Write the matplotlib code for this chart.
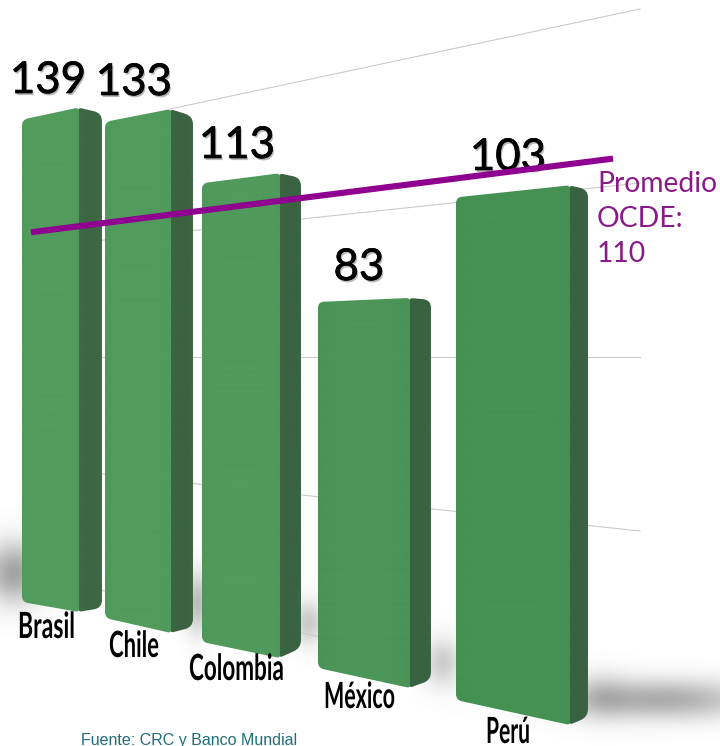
import matplotlib
matplotlib.use("Agg")
import matplotlib.pyplot as plt
import matplotlib.patheffects as pe
from matplotlib.patches import PathPatch
from matplotlib.path import Path
from matplotlib.transforms import Affine2D
import numpy as np

W, H = 720, 746

countries = ["Brasil", "Chile", "Colombia", "México", "Perú"]
values = [139, 133, 113, 83, 103]
ocde_value = 110
ocde_label = "Promedio\nOCDE:\n110"
source = "Fuente: CRC y Banco Mundial"
grid_steps = [-2, -1, 0, 1, 2]

# perspective layout, pixels: three vertical edges of each bar (left, front, right)
edge_x = [(22, 78, 102), (105, 170, 193), (202, 279, 301), (318, 409, 431), (456, 569, 588)]
edge_base = [(602, 612, 608), (618, 633, 627), (642, 658, 648), (668, 688, 680), (700, 725, 717)]
# pixels per unit along each edge, grows toward the viewer
edge_scale = [(3.47, 3.63, 3.56), (3.73, 3.94, 3.84), (4.06, 4.29, 4.16), (4.41, 4.70, 4.58), (4.88, 5.24, 5.12)]
# same idea for the OCDE line, its two ends
ocde_x = np.array([31, 613])
ocde_base = np.array([614, 735])
ocde_scale = np.array([3.47, 5.24])

value_pos = [(48, 93), (134, 95), (237, 158), (359, 280), (508, 170)]
label_pos = [(18, 638), (109, 657), (189, 680), (324, 708), (486, 743)]
label_width = [57, 50, 95, 71, 44]
front_colors = ["#529d5e", "#519c5d", "#509b5c", "#4b9658", "#469254"]
side_colors = ["#3d6744", "#3b6342", "#3a6341", "#386240", "#386240"]


class Squeeze(pe.AbstractPathEffect):
    # no condensed font installed, so narrow the glyphs from the text's left edge
    def __init__(self, sx):
        super().__init__()
        self.sx = sx

    def draw_path(self, renderer, gc, tpath, affine, rgbFace=None):
        renderer.draw_path(gc, tpath, Affine2D().scale(self.sx, 1) + affine, rgbFace)


def rounded(points, radii):
    # closed path through points, corners cut with a quadratic curve
    verts, codes = [], []
    n = len(points)
    for i, (p, r) in enumerate(zip(points, radii)):
        p = np.array(p, float)
        a = np.array(points[i - 1], float)
        b = np.array(points[(i + 1) % n], float)
        p1 = p + (a - p) / np.linalg.norm(a - p) * r
        p2 = p + (b - p) / np.linalg.norm(b - p) * r
        verts += [p1, p, p2]
        codes += [Path.MOVETO if i == 0 else Path.LINETO, Path.CURVE3, Path.CURVE3]
    verts.append(verts[0])
    codes.append(Path.CLOSEPOLY)
    return Path(verts, codes)


def textured(ax, path, color, x0, x1, y0, y1, fade, seed, z):
    # plain face colour with faint horizontal brush lines, clipped to the face
    rgb = np.array(matplotlib.colors.to_rgb(color))
    ny, nx = int(y1 - y0) + 1, int(x1 - x0) + 1
    yy = np.arange(ny)
    streak = (np.sin(yy * 1.9 + seed) + 0.6 * np.sin(yy * 0.73 + seed * 2) + 0.5 * np.sin(yy * 3.1)) * 0.006
    xx = np.linspace(0, 1, nx)
    shade = 1 + fade * (np.abs(xx - 0.5) * 2) ** 4
    img = np.clip(rgb[None, None, :] * (1 + streak[:, None, None]) * shade[None, :, None], 0, 1)
    im = ax.imshow(img, extent=(x0, x1, y1, y0), aspect="auto", zorder=z, interpolation="bilinear")
    patch = PathPatch(path, fc="none", ec="none", transform=ax.transData)
    ax.add_patch(patch)
    im.set_clip_path(patch)


fig = plt.figure(figsize=(W / 100, H / 100), dpi=100)
ax = fig.add_axes([0, 0, 1, 1])
ax.set_xlim(0, W)
ax.set_ylim(H, 0)
ax.axis("off")
ax.set_autoscale_on(False)

# soft floor shadows
yy, xx = np.mgrid[0:H, 0:W]
blobs = [
    (14, 572, 30, 30, 0.55),
    (197, 602, 14, 30, 0.40),
    (308, 622, 16, 22, 0.32),
    (442, 662, 20, 24, 0.30),
    (660, 699, 95, 20, 0.50),
    (600, 695, 26, 24, 0.18),
]
alpha = np.zeros((H, W))
for cx, cy, rx, ry, a in blobs:
    alpha += a * np.exp(-((xx - cx) / rx) ** 2 - ((yy - cy) / ry) ** 2)
rgba = np.zeros((H, W, 4))
rgba[..., :3] = 0.35
rgba[..., 3] = np.clip(alpha, 0, 0.6)
ax.imshow(rgba, extent=(0, W, H, 0), aspect="auto", zorder=0)

# perspective grid, fans out from y=357
for k in grid_steps:
    x_start = 170 if k == -2 else 100
    x_end = 320 if k == 2 else 640
    gx = np.array([x_start, x_end])
    spread = 124 + (gx - 170) / 470 * 50
    ax.plot(gx, 357 + k * spread, color="#cacaca", lw=0.8, zorder=1)

for i, v in enumerate(values):
    xs, base, sc = edge_x[i], edge_base[i], edge_scale[i]
    tops = [b - v * s for b, s in zip(base, sc)]
    front = [(xs[0], base[0]), (xs[1] + 1, base[1]), (xs[1] + 1, tops[1]), (xs[0], tops[0])]
    side = [(xs[1], base[1]), (xs[2], base[2]), (xs[2], tops[2]), (xs[1], tops[1])]
    # side goes first, front edge overlaps it by a pixel
    textured(ax, rounded(side, [4, 8, 8, 4]), side_colors[i], xs[1], xs[2], tops[1] - 2, base[1] + 2, 0.04, i, 2)
    textured(ax, rounded(front, [6, 3, 4, 6]), front_colors[i], xs[0], xs[1] + 1, tops[1] - 2, base[1] + 2, -0.02, i + 3, 3)

shadow = [pe.SimplePatchShadow(offset=(1, -1.5), alpha=0.28, shadow_rgbFace="#000000"),
          pe.withStroke(linewidth=0.5, foreground="black")]
for v, (x, y) in zip(values, value_pos):
    ax.text(x, y, str(v), ha="center", va="baseline", fontsize=31.5, family="Lato", color="black",
            zorder=5, path_effects=shadow)

renderer = fig.canvas.get_renderer()
for name, (x, y), w in zip(countries, label_pos, label_width):
    t = ax.text(x, y, name, ha="left", va="baseline", fontsize=26, fontweight="bold", color="black",
                family="Lato", zorder=5)
    t.set_path_effects([Squeeze(w / t.get_window_extent(renderer).width)])

# OCDE average, tilted with the floor
ax.plot(ocde_x, ocde_base - ocde_value * ocde_scale, color="#900090", lw=4.4, solid_capstyle="butt", zorder=6)
ax.text(597, 219, ocde_label, ha="left", va="center", fontsize=20.3, family="Lato", color="#8a1a8a",
        linespacing=1.43, zorder=6)

ax.text(81, 745, source, ha="left", va="baseline", fontsize=11.5, family="Liberation Sans", color="#1f6f7a", zorder=6)

fig.savefig("out.png", dpi=100)
